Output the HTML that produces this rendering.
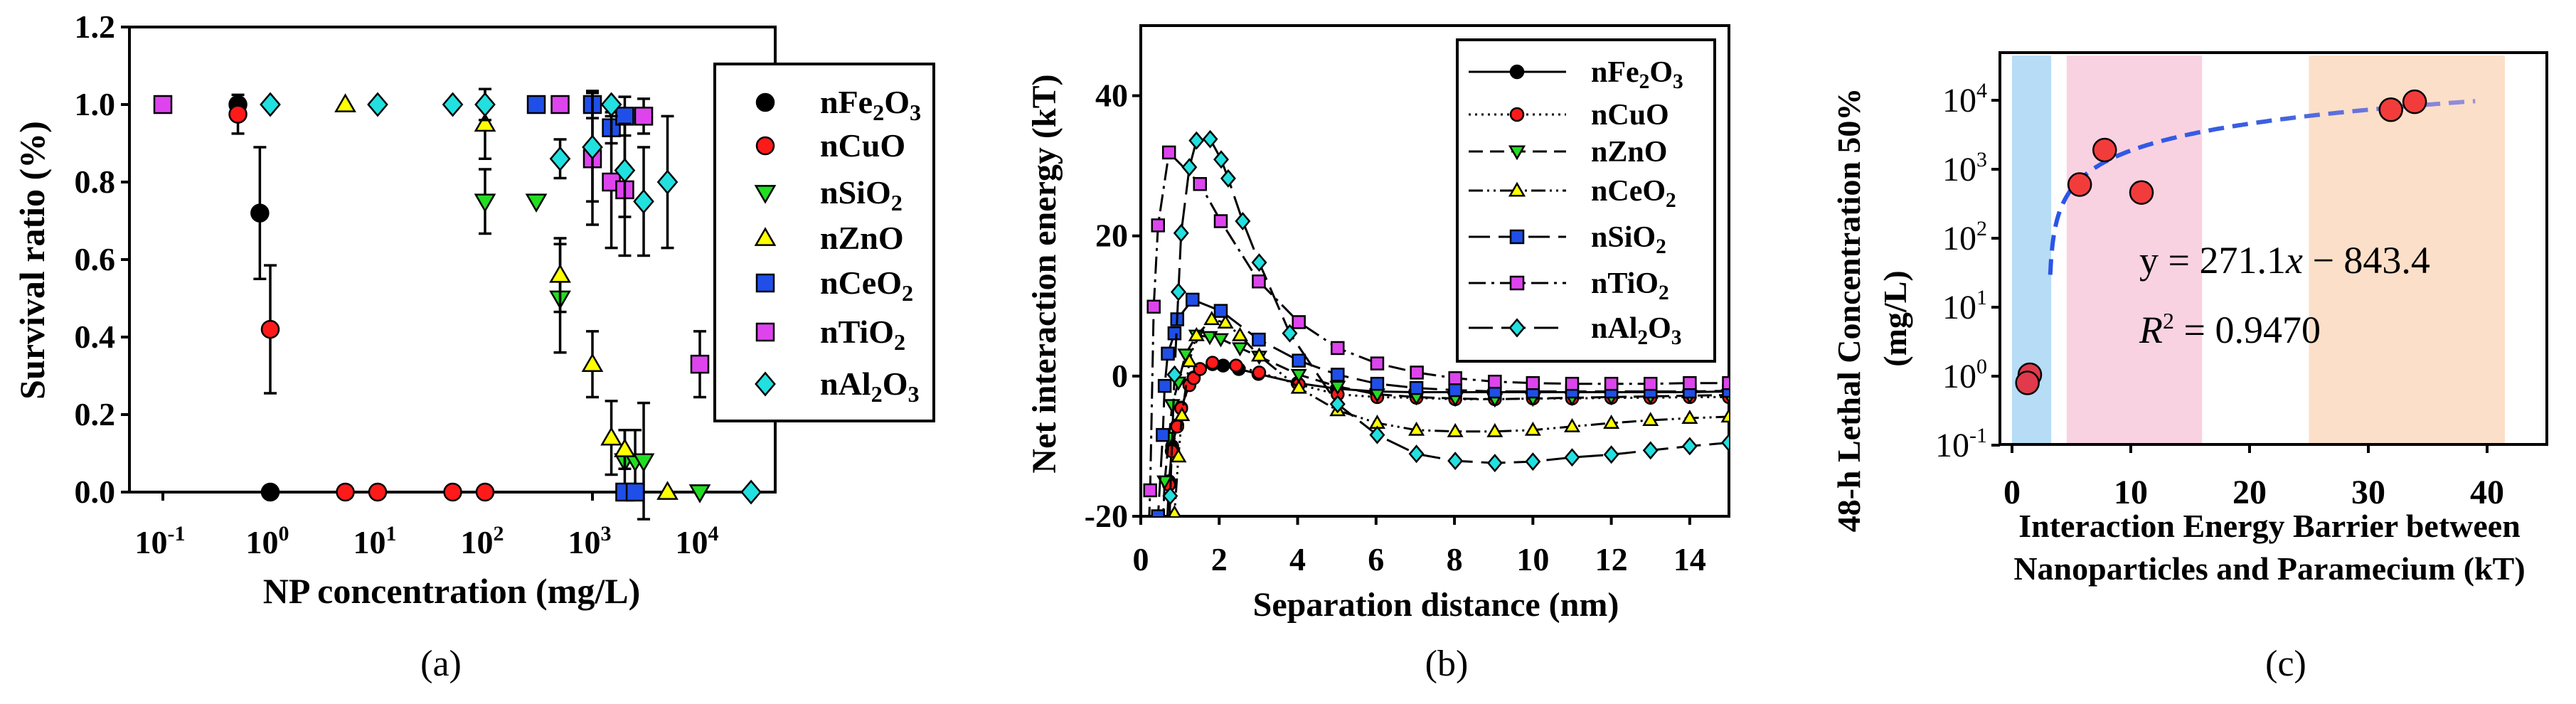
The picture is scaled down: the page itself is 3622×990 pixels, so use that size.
<!DOCTYPE html>
<html><head><meta charset="utf-8"><title>Nanoparticle survival, interaction energy and LC50 charts</title>
<style>
html,body{margin:0;padding:0;background:#fff;}
svg{display:block;font-family:"Liberation Serif","DejaVu Serif",serif;}
text{font-family:"Liberation Serif","DejaVu Serif",serif;}
</style></head>
<body>
<svg id="fig" width="3622" height="990" viewBox="0 0 3622 990" xmlns="http://www.w3.org/2000/svg" font-family="Liberation Serif, serif">
<defs>
<clipPath id="clipB"><rect x="1604" y="36" width="827" height="690"/></clipPath>
<linearGradient id="fitGrad" x1="0" x2="1" y1="0" y2="0"><stop offset="0" stop-color="#2a55e8"/><stop offset="0.5" stop-color="#3b5fe0"/><stop offset="1" stop-color="#9a8fd8"/></linearGradient>
</defs>
<g id="panelA"></g>
<g id="panelB"></g>
<g id="panelC"></g>
</svg>
<script>
// ---------- Panel A data ----------
const aSeriesNames = ["nFe2O3","nCuO","nSiO2","nZnO","nCeO2","nTiO2","nAl2O3"];
const aFeX = [0.5, 0.8, 1];
const aFeY = [1.0, 0.72, 0];
const aFeErr = [0, 0.17, 0];
const aCuX = [0.5, 1, 5, 10, 50, 100];
const aCuY = [0.975, 0.42, 0, 0, 0, 0];
const aCuErr = [0.05, 0.165, 0, 0, 0, 0];
const aSiX = [100, 300, 500, 2000, 2500, 3000, 10000];
const aSiY = [0.75, 0.75, 0.5, 0.08, 0.08, 0.08, 0];
const aSiErr = [0.083, 0, 0.14, 0.08, 0.08, 0.15, 0];
const aZnX = [5, 100, 500, 1000, 1500, 2000, 5000];
const aZnY = [1.0, 0.95, 0.56, 0.33, 0.14, 0.11, 0];
const aZnErr = [0, 0.09, 0.095, 0.085, 0.095, 0.05, 0];
const aCeX = [300, 1000, 1500, 2000, 2000, 2500];
const aCeY = [1.0, 1.0, 0.94, 0.97, 0, 0];
const aCeErr = [0, 0.035, 0.04, 0.05, 0, 0];
const aTiX = [0.1, 500, 1000, 1500, 2000, 3000, 10000];
const aTiY = [1.0, 1.0, 0.86, 0.80, 0.78, 0.97, 0.33];
const aTiErr = [0, 0, 0.17, 0.17, 0.17, 0.045, 0.085];
const aAlX = [1, 10, 50, 100, 500, 1000, 1500, 2000, 3000, 5000, 30000];
const aAlY = [1, 1, 1, 1, 0.86, 0.89, 1.0, 0.83, 0.75, 0.80, 0];
const aAlErr = [0, 0, 0, 0.04, 0.05, 0.14, 0, 0.12, 0.14, 0.17, 0];
const aYTicks = [0, 0.2, 0.4, 0.6, 0.8, 1.0, 1.2];
const aYTickLabels = ["0.0","0.2","0.4","0.6","0.8","1.0","1.2"];
const aXTickExp = [-1, 0, 1, 2, 3, 4];

// ---------- Panel B data ----------
const bFeX = [0.6,0.72,0.8,0.93,1.03,1.24,1.35,1.51,1.83,2.1,2.5,3,4,5,6,7,8,9,10,11,12,13,14,15];
const bFeY = [-30,-15,-10,-7,-4.5,-1.2,-0.2,1.0,1.7,1.5,1.0,0.3,-1,-1.8,-2.2,-2.3,-2.3,-2.3,-2.3,-2.3,-2.3,-2.3,-2.3,-2.2];
const bCuX = [0.6,0.72,0.79,0.93,1.03,1.24,1.35,1.51,1.83,2.43,3.02,4.03,5.02,6.03,7.03,8.02,9.03,10,11,12,13,14,15];
const bCuY = [-30,-15.5,-10.7,-7.2,-4.6,-1.3,-0.3,1.0,1.9,1.5,0.5,-1.2,-2.6,-3,-3.1,-3.3,-3.3,-3.2,-3.2,-3.1,-3.1,-3,-3];
const bZnX = [0.5,0.61,0.72,0.8,0.96,1.14,1.42,1.76,2.04,2.53,3.02,4.03,5.02,6.03,7.03,8.02,9.03,10,11,12,13,14,15];
const bZnY = [-30,-15,-8.8,-4.1,-0.9,3.1,5.8,5.6,5.3,4,2.8,0.2,-1.5,-2.6,-3,-3.2,-3.3,-3.2,-3.1,-3,-2.9,-2.8,-2.7];
const bCeX = [0.8,0.86,0.96,1.05,1.24,1.42,1.81,2.16,2.53,3.02,4.03,5.02,6.03,7.03,8.02,9.03,10,11,12,13,14,15];
const bCeY = [-30,-19.6,-11.5,-5.6,2.1,5.8,8.1,7.6,5.8,2.9,-1.7,-4.9,-6.7,-7.7,-7.9,-7.9,-7.7,-7.2,-6.7,-6.3,-6.0,-5.8];
const bSiX = [0.38,0.44,0.56,0.61,0.69,0.86,0.93,1.32,2.04,3.01,4.03,5.02,6.03,7.03,8.02,9.03,10,11,12,13,14,15];
const bSiY = [-30,-20,-8.4,-1.4,3.2,6.1,8.1,10.9,9.3,5.2,2.2,0.2,-1.1,-1.7,-2.0,-2.2,-2.2,-2.2,-2.2,-2.2,-2.2,-2.1];
const bTiX = [0.15,0.24,0.33,0.44,0.72,1.51,2.04,3.01,4.03,5.02,6.03,7.04,8.02,9.03,10,11,12,13,14,15];
const bTiY = [-30,-16.3,9.9,21.5,31.9,27.4,22.1,13.5,7.7,4.0,1.8,0.5,-0.3,-0.8,-1.0,-1.1,-1.1,-1.1,-1.0,-1.0];
const bAlX = [0.7,0.75,0.86,0.96,1.03,1.24,1.42,1.77,2.05,2.23,2.6,3.02,3.8,5.02,6.03,7.03,8.02,9.03,10,11,12,13,14,15];
const bAlY = [-30,-17.1,0.2,12,20.4,29.8,33.6,33.8,30.9,28.2,22.1,16.2,6.1,-4,-8.4,-11.1,-12.1,-12.4,-12.2,-11.6,-11.2,-10.6,-10,-9.5];
const bYTicks = [-20, 0, 20, 40];
const bXTicks = [0,2,4,6,8,10,12,14];

// ---------- Panel C data ----------
const cPointX = [1.5, 1.3, 5.7, 7.8, 10.9, 31.9, 33.9];
const cPointY = [1.05, 0.8, 600, 1900, 460, 7300, 9500];
const cFitSlope = [271.1];
const cFitIntercept = [-843.4];
const cFitRange = [3.22, 39];
const cBandStart = [0, 4.6, 25];
const cBandEnd = [3.3, 16, 41.5];
const cBandColors = ["#b6dcf6", "#f9d2e2", "#fcdfc8"];
const cXTicks = [0, 10, 20, 30, 40];
const cYTickExp = [-1, 0, 1, 2, 3, 4];

const NS = "http://www.w3.org/2000/svg";
const SERIF = "Liberation Serif, DejaVu Serif, serif";
function el(parent, tag, attrs, text) {
  const e = document.createElementNS(NS, tag);
  for (const k in attrs) e.setAttribute(k, attrs[k]);
  if (tag === "text") e.setAttribute("font-family", SERIF);
  if (text !== undefined) e.textContent = text;
  parent.appendChild(e);
  return e;
}
function marker(parent, shape, cx, cy, r, fill) {
  let m;
  if (shape === "circle") m = el(parent, "circle", {cx:cx, cy:cy, r:r, fill:fill, stroke:"#000", "stroke-width":2.5});
  else if (shape === "square") m = el(parent, "rect", {x:cx-r, y:cy-r, width:2*r, height:2*r, fill:fill, stroke:"#000", "stroke-width":2.5});
  else if (shape === "tridown") m = el(parent, "polygon", {points:`${cx-r*1.1},${cy-r*0.8} ${cx+r*1.1},${cy-r*0.8} ${cx},${cy+r*1.1}`, fill:fill, stroke:"#000", "stroke-width":2.5});
  else if (shape === "triup") m = el(parent, "polygon", {points:`${cx-r*1.1},${cy+r*0.8} ${cx+r*1.1},${cy+r*0.8} ${cx},${cy-r*1.1}`, fill:fill, stroke:"#000", "stroke-width":2.5});
  else m = el(parent, "polygon", {points:`${cx},${cy-r*1.3} ${cx+r*1.1},${cy} ${cx},${cy+r*1.3} ${cx-r*1.1},${cy}`, fill:fill, stroke:"#000", "stroke-width":2.5});
  return m;
}
function chem(parent, x, y, parts, size, anchor) {
  const t = el(parent, "text", {x:x, y:y, "font-size":size, "font-weight":"bold", "text-anchor":anchor||"start"});
  let sub = false;
  parts.forEach(p => {
    const ts = el(t, "tspan", {});
    if (p[1] && !sub) { ts.setAttribute("dy", size*0.22); ts.setAttribute("font-size", size*0.7); sub = true; }
    else if (!p[1] && sub) { ts.setAttribute("dy", -size*0.22); sub = false; }
    ts.textContent = p[0];
  });
  return t;
}
const formulas = {
  nFe2O3: [["nFe",0],["2",1],["O",0],["3",1]],
  nCuO: [["nCuO",0]],
  nSiO2: [["nSiO",0],["2",1]],
  nZnO: [["nZnO",0]],
  nCeO2: [["nCeO",0],["2",1]],
  nTiO2: [["nTiO",0],["2",1]],
  nAl2O3: [["nAl",0],["2",1],["O",0],["3",1]]
};

// ================= PANEL A =================
(function(){
  const g = document.getElementById("panelA");
  const L=182, R=1090, T=38, B=692;
  const xA = v => 380 + Math.log10(v)*151;
  const yA = v => B - v*(B-T)/1.2;
  const box = el(g, "rect", {x:L, y:T, width:R-L, height:B-T, fill:"none", stroke:"#000", "stroke-width":4});
  
  
  aYTicks.forEach((v,i) => {
    el(g, "line", {x1:L-12, x2:L, y1:yA(v), y2:yA(v), stroke:"#000", "stroke-width":4});
    const t = el(g, "text", {x:L-20, y:yA(v)+15, "font-size":46, "font-weight":"bold", "text-anchor":"end"}, aYTickLabels[i]);
    
    
  });
  aXTickExp.forEach(e => {
    const x = xA(Math.pow(10,e));
    el(g, "line", {x1:x, x2:x, y1:B, y2:B+12, stroke:"#000", "stroke-width":4});
    const t = el(g, "text", {x:x-4, y:778, "font-size":46, "font-weight":"bold", "text-anchor":"middle"});
    
    
    el(t, "tspan", {}, "10");
    el(t, "tspan", {dy:-18, "font-size":30}, String(e));
  });
  const xt = el(g, "text", {x:635, y:848, "font-size":50, "font-weight":"bold", "text-anchor":"middle"}, "NP concentration (mg/L)");
  
  
  const yt = el(g, "text", {x:0, y:0, "font-size":50, "font-weight":"bold", "text-anchor":"middle", transform:"translate(62,366) rotate(-90)"}, "Survival ratio (%)");
  
  
  const cap = el(g, "text", {x:620, y:950, "font-size":52, "text-anchor":"middle"}, "(a)");
  
  

  const series = [
    ["nFe2O3", aFeX, aFeY, aFeErr, "circle", "#000"],
    ["nCuO", aCuX, aCuY, aCuErr, "circle", "#ff1a1a"],
    ["nSiO2", aSiX, aSiY, aSiErr, "tridown", "#22dd22"],
    ["nZnO", aZnX, aZnY, aZnErr, "triup", "#ffff00"],
    ["nCeO2", aCeX, aCeY, aCeErr, "square", "#1f4fe8"],
    ["nTiO2", aTiX, aTiY, aTiErr, "square", "#dd44ee"],
    ["nAl2O3", aAlX, aAlY, aAlErr, "diamond", "#22e0e0"]
  ];
  series.forEach(s => {
    const sg = el(g, "g", {});
    
    
    s[1].forEach((xv,i) => {
      const cx = xA(xv), cy = yA(s[2][i]), e = s[3][i];
      if (e > 0) {
        el(sg, "line", {x1:cx, x2:cx, y1:yA(s[2][i]-e), y2:yA(s[2][i]+e), stroke:"#000", "stroke-width":3.5});
        el(sg, "line", {x1:cx-9, x2:cx+9, y1:yA(s[2][i]-e), y2:yA(s[2][i]-e), stroke:"#000", "stroke-width":3.5});
        el(sg, "line", {x1:cx-9, x2:cx+9, y1:yA(s[2][i]+e), y2:yA(s[2][i]+e), stroke:"#000", "stroke-width":3.5});
      }
      const m = marker(sg, s[4], cx, cy, 12, s[5]);
      
      
    });
  });
  const lg = el(g, "g", {});
  
  
  el(lg, "rect", {x:1005, y:90, width:308, height:502, fill:"#fff", stroke:"#000", "stroke-width":4});
  const rows = [144,205,271,335,398,467,540];
  series.forEach((s,i) => {
    const m = marker(lg, s[4], 1076, rows[i], 12, s[5]);
    
    
    const t = chem(lg, 1153, rows[i]+15, formulas[s[0]], 46);
    
    
  });
})();

// ================= PANEL B =================
(function(){
  const g = document.getElementById("panelB");
  const L=1604, R=2431, T=36, B=726;
  const xB = v => L + v*(R-L)/15;
  const yB = v => B - (v+20)*(B-T)/70;
  const box = el(g, "rect", {x:L, y:T, width:R-L, height:B-T, fill:"none", stroke:"#000", "stroke-width":4});
  
  
  bYTicks.forEach(v => {
    el(g, "line", {x1:L-12, x2:L, y1:yB(v), y2:yB(v), stroke:"#000", "stroke-width":4});
    const t = el(g, "text", {x:L-18, y:yB(v)+15, "font-size":46, "font-weight":"bold", "text-anchor":"end"}, String(v));
    
    
  });
  bXTicks.forEach(v => {
    el(g, "line", {x1:xB(v), x2:xB(v), y1:B, y2:B+12, stroke:"#000", "stroke-width":4});
    const t = el(g, "text", {x:xB(v), y:802, "font-size":46, "font-weight":"bold", "text-anchor":"middle"}, String(v));
    
    
  });
  const xt = el(g, "text", {x:2019, y:866, "font-size":48, "font-weight":"bold", "text-anchor":"middle"}, "Separation distance (nm)");
  
  
  const yt = el(g, "text", {x:0, y:0, "font-size":48, "font-weight":"bold", "text-anchor":"middle", transform:"translate(1484,385) rotate(-90)"}, "Net interaction energy (kT)");
  
  
  const cap = el(g, "text", {x:2034, y:950, "font-size":52, "text-anchor":"middle"}, "(b)");
  
  

  const series = [
    ["nFe2O3", bFeX, bFeY, "circle", "#000", "none"],
    ["nCuO", bCuX, bCuY, "circle", "#ff1a1a", "3,6"],
    ["nZnO", bZnX, bZnY, "tridown", "#22dd22", "20,10"],
    ["nCeO2", bCeX, bCeY, "triup", "#ffff00", "20,6,3,6,3,6"],
    ["nSiO2", bSiX, bSiY, "square", "#1f4fe8", "30,12"],
    ["nTiO2", bTiX, bTiY, "square", "#dd44ee", "24,8,4,8"],
    ["nAl2O3", bAlX, bAlY, "diamond", "#22e0e0", "34,12"]
  ];
  const cg = el(g, "g", {"clip-path":"url(#clipB)"});
  series.forEach(s => {
    const sg = el(cg, "g", {});
    
    
    const d = s[1].map((xv,i) => (i?"L":"M") + xB(xv).toFixed(1) + "," + yB(s[2][i]).toFixed(1)).join(" ");
    const p = el(sg, "path", {d:d, fill:"none", stroke:"#000", "stroke-width":3, "stroke-dasharray":s[5]});
    
    
    s[1].forEach((xv,i) => {
      if (s[2][i] < -20.5) return;
      const m = marker(sg, s[3], xB(xv), yB(s[2][i]), 8.5, s[4]);
      
      
    });
  });
  const lg = el(g, "g", {});
  
  
  el(lg, "rect", {x:2049, y:56, width:362, height:452, fill:"#fff", stroke:"#000", "stroke-width":4});
  const rows = [101,161,213,268,333,398,461];
  series.forEach((s,i) => {
    el(lg, "line", {x1:2065, x2:2202, y1:rows[i], y2:rows[i], stroke:"#000", "stroke-width":3, "stroke-dasharray":s[5]});
    const m = marker(lg, s[3], 2133, rows[i], 9, s[4]);
    
    
    const t = chem(lg, 2237, rows[i]+14, formulas[s[0]], 42);
    
    
  });
})();

// ================= PANEL C =================
(function(){
  const g = document.getElementById("panelC");
  const L=2812, R=3581, T=74, B=625;
  const xC = v => 2829 + v*16.7;
  const yC = v => 529 - Math.log10(v)*97;
  cBandStart.forEach((s,i) => {
    const r = el(g, "rect", {x:xC(s), y:T+4, width:xC(cBandEnd[i])-xC(s), height:B-T-6, fill:cBandColors[i]});
    
    
  });
  const box = el(g, "rect", {x:L, y:T, width:R-L, height:B-T, fill:"none", stroke:"#000", "stroke-width":4});
  
  
  cYTickExp.forEach(e => {
    const y = yC(Math.pow(10,e));
    el(g, "line", {x1:L-12, x2:L, y1:y, y2:y, stroke:"#000", "stroke-width":4});
    const t = el(g, "text", {x:L-18, y:y+16, "font-size":48, "text-anchor":"end"});
    
    
    el(t, "tspan", {}, "10");
    el(t, "tspan", {dy:-20, "font-size":30}, String(e));
  });
  cXTicks.forEach(v => {
    el(g, "line", {x1:xC(v), x2:xC(v), y1:B, y2:B+12, stroke:"#000", "stroke-width":4});
    const t = el(g, "text", {x:xC(v), y:708, "font-size":48, "font-weight":"bold", "text-anchor":"middle"}, String(v));
    
    
  });
  const x1 = el(g, "text", {x:3191, y:755, "font-size":46, "font-weight":"bold", "text-anchor":"middle"}, "Interaction Energy Barrier between");
  
  
  const x2 = el(g, "text", {x:3191, y:815, "font-size":46, "font-weight":"bold", "text-anchor":"middle"}, "Nanoparticles and Paramecium (kT)");
  
  
  const y1 = el(g, "text", {x:0, y:0, "font-size":46, "font-weight":"bold", "text-anchor":"middle", transform:"translate(2615,436) rotate(-90)"}, "48-h Lethal Concentration 50%");
  
  
  const y2 = el(g, "text", {x:0, y:0, "font-size":46, "font-weight":"bold", "text-anchor":"middle", transform:"translate(2680,448) rotate(-90)"}, "(mg/L)");
  
  
  const pts = [];
  for (let i=0;i<=200;i++){
    const x = cFitRange[0] + (cFitRange[1]-cFitRange[0])*Math.pow(i/200,1.6);
    const y = cFitSlope[0]*x + cFitIntercept[0];
    if (y > 0) pts.push(xC(x).toFixed(1)+","+yC(y).toFixed(1));
  }
  const fit = el(g, "path", {d:"M"+pts.join(" L"), fill:"none", stroke:"url(#fitGrad)", "stroke-width":6, "stroke-dasharray":"22,12"});
  
  
  cPointX.forEach((xv,i) => {
    const c = el(g, "circle", {cx:xC(xv), cy:yC(cPointY[i]), r:16, fill: i<2 ? "#e03a4c" : "#f23c3c", stroke:"#000", "stroke-width":2.5});
    
    
  });
  const eq = el(g, "text", {x:3008, y:384, "font-size":54}, "");
  
  
  el(eq, "tspan", {}, "y = 271.1");
  el(eq, "tspan", {"font-style":"italic"}, "x");
  el(eq, "tspan", {}, " \u2212 843.4");
  const r2 = el(g, "text", {x:3008, y:482, "font-size":54}, "");
  
  
  el(r2, "tspan", {"font-style":"italic"}, "R");
  el(r2, "tspan", {dy:-20, "font-size":32}, "2");
  el(r2, "tspan", {dy:20}, " = 0.9470");
  const cap = el(g, "text", {x:3214, y:950, "font-size":52, "text-anchor":"middle"}, "(c)");
  
  
})();
</script>
</body></html>
